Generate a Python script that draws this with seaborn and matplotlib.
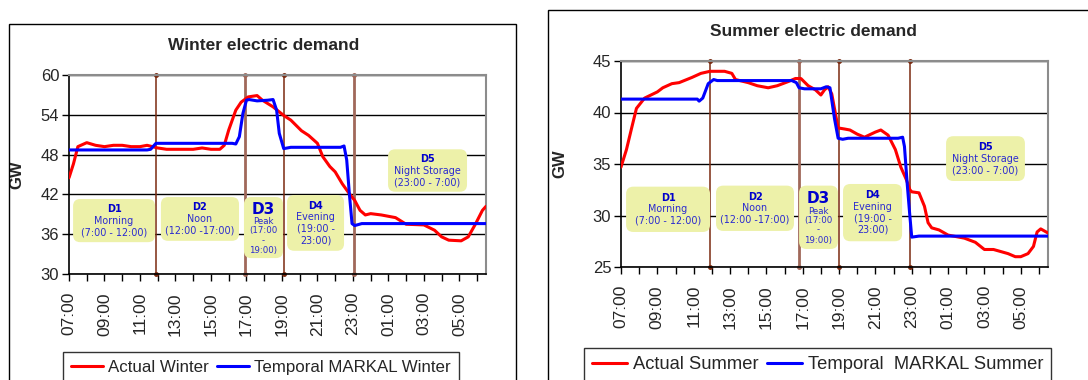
import numpy as np
import pandas as pd
import matplotlib
matplotlib.use("Agg")
import matplotlib.pyplot as plt
import seaborn as sns
from matplotlib.patches import FancyBboxPatch, Rectangle
from matplotlib.ticker import MultipleLocator, FixedLocator

# ---------------- data (hours after 07:00) ----------------
winter_actual_t = [0, 0.25, 0.5, 1, 1.5, 2, 2.5, 3, 3.5, 4, 4.4, 5, 5.5, 6, 7, 7.5, 8, 8.5,
                   8.75, 9, 9.4, 9.7, 10.1, 10.6, 10.9, 11.2, 11.5, 12.1, 12.5, 13.1, 13.5,
                   14, 14.3, 14.7, 15, 15.4, 15.8, 16.1, 16.4, 16.7, 17, 17.6, 18, 18.4, 19,
                   20, 20.6, 21, 21.4, 22.1, 22.5, 22.9, 23.3, 23.5]
winter_actual = [44.5, 46.6, 49.2, 49.8, 49.4, 49.2, 49.4, 49.4, 49.2, 49.2, 49.4, 49.0, 48.8,
                 48.8, 48.8, 49.0, 48.8, 48.8, 49.4, 51.7, 54.7, 55.9, 56.7, 56.9, 56.2, 55.7,
                 55.2, 53.9, 53.2, 51.6, 50.9, 49.7, 47.7, 46.2, 45.4, 43.6, 42.1, 41.1, 39.6,
                 38.9, 39.1, 38.9, 38.7, 38.5, 37.5, 37.4, 36.6, 35.6, 35.1, 35.0, 35.6, 37.5,
                 39.6, 40.2]

winter_markal_t = [0, 4.4, 4.6, 4.9, 9.2, 9.4, 9.6, 9.8, 10.0, 10.15, 10.6, 11.2, 11.5, 11.7,
                   11.85, 12.1, 12.5, 15.3, 15.5, 15.65, 15.8, 15.95, 16.1, 16.5, 23.5]
winter_markal = [48.7, 48.7, 48.8, 49.7, 49.7, 49.6, 50.7, 54.2, 56.2, 56.3, 56.1, 56.2, 56.3,
                 54.7, 51.2, 48.9, 49.1, 49.1, 49.3, 47.2, 42.1, 37.6, 37.3, 37.6, 37.6]

summer_actual_t = [0, 0.3, 0.6, 0.85, 1.3, 2, 2.3, 2.8, 3.2, 3.9, 4.4, 4.9, 5.7, 6.1, 6.3, 7,
                   7.5, 8.1, 8.6, 9.2, 9.6, 9.9, 10.3, 10.7, 11, 11.2, 11.4, 11.6, 11.8, 11.95,
                   12.3, 12.6, 13, 13.4, 14, 14.3, 14.7, 15.1, 15.4, 15.7, 15.9, 16, 16.4, 16.7,
                   16.9, 17.1, 17.5, 18, 18.6, 18.9, 19.5, 20, 20.5, 20.9, 21.3, 21.7, 22, 22.4,
                   22.7, 22.9, 23.1, 23.5]
summer_actual = [34.7, 36.4, 38.6, 40.4, 41.4, 42.0, 42.4, 42.8, 42.9, 43.4, 43.8, 44.0, 44.0,
                 43.8, 43.2, 42.9, 42.6, 42.4, 42.6, 43.0, 43.3, 43.3, 42.6, 42.2, 41.7, 42.2,
                 42.5, 41.8, 39.9, 38.5, 38.4, 38.3, 37.9, 37.6, 38.1, 38.3, 37.8, 36.4, 34.7,
                 33.5, 32.5, 32.3, 32.2, 30.9, 29.3, 28.8, 28.6, 28.1, 27.9, 27.8, 27.4, 26.7,
                 26.7, 26.5, 26.3, 26.0, 26.0, 26.3, 27.0, 28.4, 28.7, 28.3]

summer_markal_t = [0, 4.2, 4.3, 4.5, 4.8, 5.1, 5.3, 9.4, 9.65, 9.8, 10.1, 11.0, 11.3, 11.5,
                   11.6, 11.75, 11.95, 12.2, 12.5, 15.25, 15.5, 15.6, 15.75, 15.9, 16.0, 16.4,
                   23.5]
summer_markal = [41.3, 41.3, 41.1, 41.4, 42.8, 43.2, 43.1, 43.1, 42.9, 42.4, 42.3, 42.3, 42.5,
                 42.4, 41.2, 39.4, 37.5, 37.4, 37.5, 37.5, 37.6, 36.7, 33.1, 29.9, 27.9, 28.0,
                 28.0]

tick_labels = ["07:00", "09:00", "11:00", "13:00", "15:00", "17:00",
               "19:00", "21:00", "23:00", "01:00", "03:00", "05:00"]

winter_bounds = [4.9, 9.9, 12.1, 16.05]
summer_bounds = [4.92, 9.78, 11.98, 15.9]

period_titles = ["D1", "D2", "D3", "D4", "D5"]
period_lines = [["Morning", "(7:00 - 12:00)"],
                ["Noon", "(12:00 -17:00)"],
                ["Peak", "(17:00", "-", "19:00)"],
                ["Evening", "(19:00 -", "23:00)"],
                ["Night Storage", "(23:00 - 7:00)"]]
# boxes (x0, x1, y0, y1) in data units
winter_boxes = [(0.23, 4.85, 34.8, 41.3), (5.18, 9.58, 35.0, 41.6), (9.86, 12.06, 32.4, 41.6),
                (12.29, 15.5, 33.5, 41.9), (17.98, 22.43, 42.4, 48.8)]
summer_boxes = [(0.28, 4.9, 28.4, 32.8), (5.23, 9.52, 28.5, 32.9), (9.8, 11.94, 26.75, 32.9),
                (12.22, 15.47, 27.5, 33.06), (17.89, 22.23, 33.35, 37.7)]

# ---------------- figure ----------------
sns.set_theme(style="white")
plt.rcParams["font.family"] = ["Liberation Sans", "DejaVu Sans"]

W, H = 1088, 380
fig = plt.figure(figsize=(W / 100, H / 100), dpi=100)

def fx(px):
    return px / W

def fy(py):
    return 1 - py / H

# panel borders
fig.patches.append(Rectangle((fx(9), fy(390)), fx(516 - 9), (390 - 24) / H,
                             transform=fig.transFigure, fill=False, ec="black", lw=1.0))
fig.patches.append(Rectangle((fx(548), fy(390)), fx(1100 - 548), (390 - 10) / H,
                             transform=fig.transFigure, fill=False, ec="black", lw=1.0))

ax1 = fig.add_axes([fx(69), fy(274), fx(486 - 69), (274 - 75) / H])
ax2 = fig.add_axes([fx(621), fy(267), fx(1048 - 621), (267 - 61) / H])

RED = "#FF0000"
BLUE = "#0000FF"
DARK_BROWN = "#7A2A10"
LIGHT_BROWN = "#A0685A"
BOX = "#EDF1A9"
TXT = "#2A2AD0"


def draw(ax, ta, va, tm, vm, ylim, ystep, bounds, boxes, lab_a, lab_m, aspect):
    df_a = pd.DataFrame({"t": ta, "v": va})
    df_m = pd.DataFrame({"t": tm, "v": vm})
    for i, b in enumerate(bounds):
        light = (i == 1) or (i == 3 and ax is ax1)
        ax.plot([b, b], ylim, color=LIGHT_BROWN if light else DARK_BROWN,
                lw=2.0 if light else 1.1, marker="o", ms=2.5, zorder=2, clip_on=False)
    for (x0, x1, y0, y1), title, lines in zip(boxes, period_titles, period_lines):
        rs = 0.4
        p = FancyBboxPatch((x0, y0), x1 - x0, y1 - y0,
                           boxstyle=f"round,pad=0,rounding_size={rs}",
                           mutation_aspect=aspect, fc=BOX, ec="none", zorder=3)
        ax.add_patch(p)
        cx, cy = (x0 + x1) / 2, (y0 + y1) / 2
        if title == "D3":
            offs = [-18.5, -6.3, 3.2, 12.8, 23]
            sizes = [11, 6.2, 6.2, 6.2, 6.2]
        else:
            n = len(lines) + 1
            sp = 11.5
            offs = [(k - (n - 1) / 2) * sp for k in range(n)]
            sizes = [7.0] + [6.9] * len(lines)
        texts = [title] + lines
        for k, (s, o, fs) in enumerate(zip(texts, offs, sizes)):
            ax.annotate(s, xy=(cx, cy), xytext=(0, -o * 0.72), textcoords="offset points",
                        ha="center", va="center", fontsize=fs,
                        fontweight="bold" if k == 0 else "normal",
                        color="#0000CC" if k == 0 else TXT,
                        family="DejaVu Sans", zorder=4)
    sns.lineplot(data=df_a, x="t", y="v", color=RED, lw=2.2, ax=ax, label=lab_a,
                 zorder=5, legend=False)
    sns.lineplot(data=df_m, x="t", y="v", color=BLUE, lw=2.2, ax=ax, label=lab_m,
                 zorder=6, legend=False)
    ax.set_xlim(0, 23.5)
    ax.set_ylim(*ylim)
    ax.set_yticks(np.arange(ylim[0], ylim[1] + 0.1, ystep))
    ax.xaxis.set_major_locator(FixedLocator(np.arange(0, 23, 2)))
    ax.set_xticklabels(tick_labels, rotation=90)
    ax.xaxis.set_minor_locator(MultipleLocator(1))
    ax.tick_params(axis="x", which="both", direction="out", length=5, width=1,
                   color="black", bottom=True, labelsize=12.5, pad=8)
    ax.tick_params(axis="y", direction="out", length=5, width=1, color="black", left=True,
                   labelsize=12, pad=2)
    ax.yaxis.grid(True, color="black", lw=1.0)
    ax.xaxis.grid(False)
    ax.set_axisbelow(True)
    for s in ["left", "bottom"]:
        ax.spines[s].set_color("black")
        ax.spines[s].set_linewidth(1.2)
    for s in ["top", "right"]:
        ax.spines[s].set_color("#8C8C8C")
        ax.spines[s].set_linewidth(1.5)
    ax.set_xlabel("")
    ax.set_ylabel("GW", fontsize=12, fontweight="bold")
    ax.set_facecolor("white")


draw(ax1, winter_actual_t, winter_actual, winter_markal_t, winter_markal, (30, 60), 6,
     winter_bounds, winter_boxes, "Actual Winter", "Temporal MARKAL Winter", 17.75 / 6.63)
draw(ax2, summer_actual_t, summer_actual, summer_markal_t, summer_markal, (25, 45), 5,
     summer_bounds, summer_boxes, "Actual Summer", "Temporal  MARKAL Summer", 18.17 / 10.3)

ax1.yaxis.set_label_coords((24 - 69) / 417, 0.5)
ax2.yaxis.set_label_coords((567 - 621) / 427, 0.5)

fig.text(fx(264), fy(46), "Winter electric demand", ha="center", va="center",
         fontsize=12.5, fontweight="bold")
fig.text(fx(813), fy(32), "Summer electric demand", ha="center", va="center",
         fontsize=12.5, fontweight="bold")

for ax, x0, y0, fs in [(ax1, 63, 352, 12.2), (ax2, 584, 348, 13.2)]:
    h, l = ax.get_legend_handles_labels()
    leg = fig.legend(h, l, loc="upper left", bbox_to_anchor=(fx(x0), fy(y0)), ncol=2,
                     fontsize=fs, frameon=True, fancybox=False, edgecolor="black",
                     handlelength=1.9, handletextpad=0.3, columnspacing=0.5,
                     borderpad=0.45, borderaxespad=0)
    leg.get_frame().set_linewidth(1.0)

fig.savefig("out.png", dpi=100)
